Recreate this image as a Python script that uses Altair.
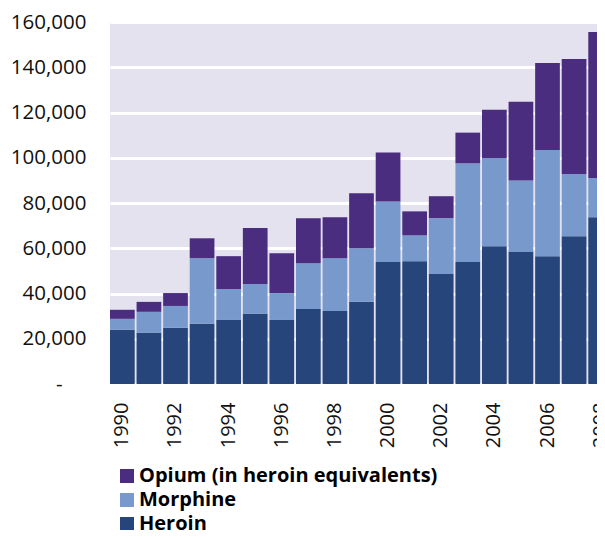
import altair as alt
import pandas as pd

years = [str(y) for y in range(1990, 2009)]
heroin = [24000, 22600, 24800, 26600, 28300, 31000, 28300, 33200, 32300, 36300,
          53900, 54300, 48600, 53900, 60900, 58300, 56500, 65300, 73700]
morphine = [4800, 9300, 9700, 29000, 13700, 13200, 11900, 20200, 23300, 23700,
            26800, 11400, 24700, 43600, 39000, 31700, 46900, 27500, 17400]
opium = [4000, 4400, 5700, 8800, 14500, 24700, 17600, 19900, 18100, 24300,
         21600, 10600, 9700, 13600, 21300, 34700, 38500, 50900, 64500]

series = ["Opium (in heroin equivalents)", "Morphine", "Heroin"]
colors = ["#4B2D80", "#7899CC", "#26457A"]
stack_order = {"Heroin": 0, "Morphine": 1, "Opium (in heroin equivalents)": 2}

rows = []
for i, y in enumerate(years):
    for name, vals in (("Heroin", heroin), ("Morphine", morphine),
                       ("Opium (in heroin equivalents)", opium)):
        rows.append({"year": y, "series": name, "value": vals[i],
                     "ord": stack_order[name]})
df = pd.DataFrame(rows)

FONT = "Open Sans"

chart = alt.Chart(df).mark_bar().encode(
    x=alt.X("year:N", title=None,
            scale=alt.Scale(paddingInner=0.07, paddingOuter=0, range=[0, 503]),
            axis=alt.Axis(values=[str(y) for y in range(1990, 2009, 2)],
                          labelAngle=270, labelFontSize=20, labelFont=FONT,
                          labelColor="#111111", ticks=False, domain=False,
                          labelPadding=18)),
    y=alt.Y("value:Q", title=None, stack="zero",
            scale=alt.Scale(domain=[0, 160000], nice=False),
            axis=alt.Axis(values=list(range(0, 160001, 20000)),
                          labelExpr="datum.value == 0 ? '-' : format(datum.value, ',')",
                          labelFontSize=20.5, labelFont=FONT,
                          labelColor="#111111", ticks=False, domain=False,
                          labelPadding={"condition": {"test": "datum.value === 0", "value": 48},
                                        "value": 24},
                          grid=True, gridColor="white", gridWidth=3)),
    color=alt.Color("series:N",
                    scale=alt.Scale(domain=series, range=colors),
                    legend=alt.Legend(title=None, orient="none", legendX=7,
                                      legendY=444, symbolType="square",
                                      symbolSize=196, symbolStrokeWidth=0,
                                      labelFontSize=20, labelFont=FONT,
                                      labelFontWeight="bold", labelColor="#000000",
                                      rowPadding=4, labelOffset=2,
                                      labelLimit=420)),
    order=alt.Order("ord:Q", sort="ascending"),
).properties(
    width=487, height=362,
    autosize=alt.AutoSizeParams(type="none"),
    padding={"left": 102, "top": 14, "right": 0, "bottom": 146},
).configure_view(
    fill="#E4E2EE", stroke=None
).configure_axis(
    gridCap="butt"
)

chart.save("out.html", embed_options={"renderer": "svg", "actions": False})
